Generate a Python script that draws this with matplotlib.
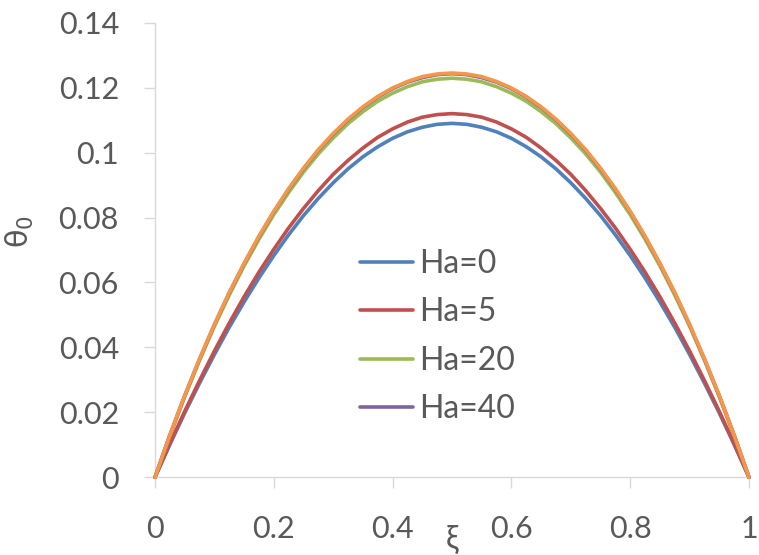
import matplotlib
matplotlib.use("Agg")
import matplotlib.pyplot as plt

xi = [0.0, 0.025, 0.05, 0.075, 0.1, 0.125, 0.15, 0.175, 0.2, 0.225, 0.25,
      0.275, 0.3, 0.325, 0.35, 0.375, 0.4, 0.425, 0.45, 0.475, 0.5,
      0.525, 0.55, 0.575, 0.6, 0.625, 0.65, 0.675, 0.7, 0.725, 0.75,
      0.775, 0.8, 0.825, 0.85, 0.875, 0.9, 0.925, 0.95, 0.975, 1.0]

# values from xi = 0 to 0.5 (curves are symmetric about xi = 0.5)
half_ha0 = [0.0, 0.0101, 0.0198, 0.0290, 0.0378, 0.0462, 0.0540, 0.0614, 0.0683, 0.0747,
            0.0806, 0.0859, 0.0907, 0.0950, 0.0987, 0.1018, 0.1044, 0.1064, 0.1078, 0.1087, 0.1090]
half_ha5 = [0.0, 0.0104, 0.0203, 0.0298, 0.0389, 0.0475, 0.0556, 0.0632, 0.0702, 0.0768,
            0.0828, 0.0883, 0.0933, 0.0976, 0.1014, 0.1047, 0.1073, 0.1094, 0.1109, 0.1117, 0.1120]
half_ha20 = [0.0, 0.0128, 0.0248, 0.0360, 0.0465, 0.0561, 0.0651, 0.0733, 0.0809, 0.0877,
             0.0940, 0.0996, 0.1045, 0.1089, 0.1126, 0.1158, 0.1183, 0.1203, 0.1218, 0.1226, 0.1229]
half_ha40 = [0.0, 0.0130, 0.0251, 0.0364, 0.0470, 0.0568, 0.0658, 0.0741, 0.0818, 0.0887,
             0.0950, 0.1007, 0.1057, 0.1101, 0.1139, 0.1171, 0.1197, 0.1217, 0.1231, 0.1240, 0.1243]
half_inf = [0.0, 0.0130, 0.0252, 0.0365, 0.0471, 0.0569, 0.0659, 0.0743, 0.0819, 0.0889,
            0.0952, 0.1009, 0.1059, 0.1103, 0.1141, 0.1173, 0.1199, 0.1219, 0.1234, 0.1242, 0.1245]

ha0 = half_ha0 + half_ha0[-2::-1]
ha5 = half_ha5 + half_ha5[-2::-1]
ha20 = half_ha20 + half_ha20[-2::-1]
ha40 = half_ha40 + half_ha40[-2::-1]
ha_inf = half_inf + half_inf[-2::-1]

labels = ["Ha=0", "Ha=5", "Ha=20", "Ha=40"]
colors = ["#4F81BD", "#C0504D", "#9BBB59", "#8064A2", "#F79646"]

plt.rcParams['font.family'] = ['Lato', 'DejaVu Sans']

fig = plt.figure(figsize=(7.59, 5.55), dpi=100)
ax = fig.add_axes([155/759, 1-477.3/555, 594/759, 454.6/555])

series = [ha0, ha5, ha20, ha40, ha_inf]
for i, ys in enumerate(series):
    lab = labels[i] if i < len(labels) else None
    ax.plot(xi, ys, color=colors[i], lw=2.6, label=lab, clip_on=False,
            solid_capstyle='round', solid_joinstyle='round', zorder=3+i)

ax.set_xlim(0, 1)
ax.set_ylim(0, 0.14)
ax.set_xticks([0, 0.2, 0.4, 0.6, 0.8, 1])
ax.set_xticklabels(["0", "0.2", "0.4", "0.6", "0.8", "1"])
ax.set_yticks([0, 0.02, 0.04, 0.06, 0.08, 0.1, 0.12, 0.14])
ax.set_yticklabels(["0", "0.02", "0.04", "0.06", "0.08", "0.1", "0.12", "0.14"])

for s in ['top', 'right']:
    ax.spines[s].set_visible(False)
for s in ['left', 'bottom']:
    ax.spines[s].set_color('#D9D9D9')
    ax.spines[s].set_linewidth(1.0)

ax.tick_params(axis='x', direction='out', length=8, width=1, color='#D9D9D9',
               labelsize=22, labelcolor='#595959', pad=19)
ax.tick_params(axis='y', direction='out', length=8, width=1, color='#D9D9D9',
               labelsize=22, labelcolor='#595959', pad=18)

ax.set_xlabel('ξ', fontsize=23, color='#595959', va='center',
              family=['Lato', 'DejaVu Sans'])
ax.xaxis.set_label_coords(0.5, -0.138)
ax.set_ylabel(r'$\mathrm{\theta_0}$', fontsize=22, color='#595959', va='center')
ax.yaxis.set_label_coords(-0.227, 0.54)

leg = ax.legend(loc='upper left', bbox_to_anchor=(0.345, 0.502), frameon=False,
                fontsize=23, handlelength=1.66, handletextpad=0.2,
                labelspacing=0.575, borderpad=0, borderaxespad=0)
for t in leg.get_texts():
    t.set_color('#595959')

fig.savefig('out.png', dpi=100)
